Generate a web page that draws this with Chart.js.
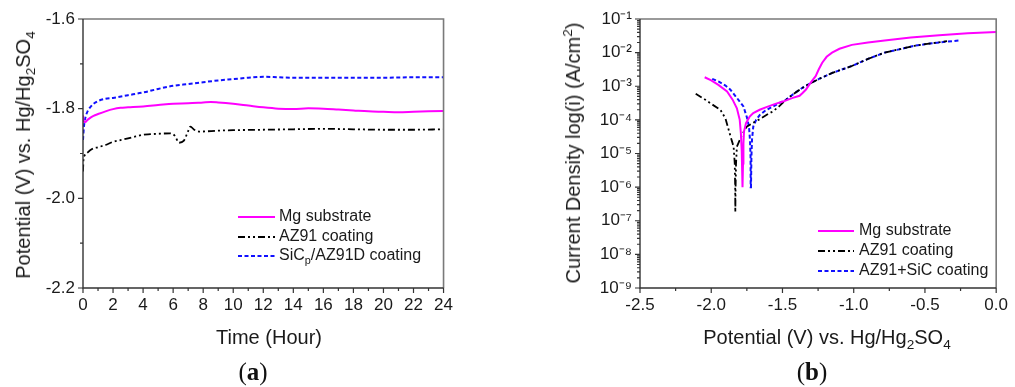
<!DOCTYPE html>
<html>
<head>
<meta charset="utf-8">
<script src="https://cdn.jsdelivr.net/npm/chart.js@4.4.1/dist/chart.umd.min.js"></script>
<style>
  html, body { margin: 0; padding: 0; background: #fff; }
  #wrap { position: relative; width: 1015px; height: 387px; overflow: hidden; font-family: "Liberation Sans", Arial, sans-serif; color: #1a1a1a; }
  canvas { position: absolute; top: 0; }
  .t { position: absolute; white-space: nowrap; font-size: 20px; line-height: 1; }
  .rot { transform: translate(-50%, -50%) rotate(-90deg); }
  .hc { transform: translate(-50%, -50%); }
  sub, sup { font-size: 68%; line-height: 0; }
  .leg { position: absolute; font-size: 16px; line-height: 1; }
  .leg div { position: absolute; left: 0; white-space: nowrap; height: 20px; }
  .leg svg { position: absolute; left: 0; top: 0; }
  .leg span { position: absolute; top: 1px; }
  .pl { position: absolute; font-family: "Liberation Serif", "Times New Roman", serif; font-size: 25px; transform: translate(-50%, -50%); color: #111; }
</style>
</head>
<body>
<div id="wrap">
  <canvas id="ca" width="460" height="387" style="left:0;width:460px;height:387px"></canvas>
  <canvas id="cb" width="495" height="387" style="left:520px;width:495px;height:387px"></canvas>

  <div class="t rot" style="left:23px;top:155px">Potential (V) vs. Hg/Hg<sub>2</sub>SO<sub>4</sub></div>
  <div class="t hc" style="left:269px;top:337px">Time (Hour)</div>
  <div class="t rot" style="left:573px;top:153px">Current Density log(i) (A/cm<sup>2</sup>)</div>
  <div class="t hc" style="left:827px;top:337px">Potential (V) vs. Hg/Hg<sub>2</sub>SO<sub>4</sub></div>

  <div class="leg" style="left:238px;top:207px">
    <div style="top:0"><svg width="40" height="20"><line x1="0" y1="10" x2="37" y2="10" stroke="#ff00ff" stroke-width="2"/></svg><span style="left:41px">Mg substrate</span></div>
    <div style="top:20px"><svg width="40" height="20"><line x1="0" y1="10" x2="37" y2="10" stroke="#000" stroke-width="2" stroke-dasharray="7,3,2,3,2,3"/></svg><span style="left:41px">AZ91 coating</span></div>
    <div style="top:39px"><svg width="40" height="20"><line x1="0" y1="10" x2="37" y2="10" stroke="#1010ff" stroke-width="2" stroke-dasharray="4,2.5"/></svg><span style="left:41px">SiC<sub>p</sub>/AZ91D coating</span></div>
  </div>

  <div class="leg" style="left:818px;top:221px">
    <div style="top:0"><svg width="40" height="20"><line x1="0" y1="10" x2="36" y2="10" stroke="#ff00ff" stroke-width="2"/></svg><span style="left:41px">Mg substrate</span></div>
    <div style="top:20px"><svg width="40" height="20"><line x1="0" y1="10" x2="36" y2="10" stroke="#000" stroke-width="2" stroke-dasharray="7,3,2,3,2,3"/></svg><span style="left:41px">AZ91 coating</span></div>
    <div style="top:40px"><svg width="40" height="20"><line x1="0" y1="10" x2="36" y2="10" stroke="#1010ff" stroke-width="2" stroke-dasharray="4,2.5"/></svg><span style="left:41px">AZ91+SiC coating</span></div>
  </div>

  <div class="pl" style="left:253px;top:372px">(<b>a</b>)</div>
  <div class="pl" style="left:812px;top:372px">(<b>b</b>)</div>
</div>
<script>
// ---------- Panel (a): open circuit potential vs time ----------
const timeMg = [0, 0.05, 0.15, 0.3, 0.5, 0.7, 1, 1.5, 2, 2.5, 3, 4, 5, 6, 7, 8, 8.5, 9, 10, 11, 12, 13, 14, 15, 16, 17, 18, 19, 20, 21, 22, 23, 24];
const potMg  = [-1.815, -1.828, -1.830, -1.825, -1.820, -1.816, -1.812, -1.806, -1.801, -1.798, -1.797, -1.795, -1.792, -1.789, -1.788, -1.786, -1.785, -1.786, -1.789, -1.793, -1.797, -1.800, -1.801, -1.799, -1.800, -1.802, -1.804, -1.806, -1.807, -1.808, -1.807, -1.806, -1.805];

const timeAZ = [0, 0.03, 0.1, 0.3, 0.6, 1, 1.5, 2, 2.5, 3, 3.5, 4, 4.5, 5, 5.8, 6.1, 6.4, 6.7, 7.0, 7.15, 7.4, 7.8, 9, 10, 12, 14, 16, 18, 20, 22, 24];
const potAZ  = [-1.940, -1.915, -1.905, -1.898, -1.890, -1.886, -1.881, -1.874, -1.870, -1.866, -1.862, -1.858, -1.857, -1.856, -1.855, -1.860, -1.876, -1.872, -1.850, -1.840, -1.847, -1.851, -1.849, -1.848, -1.847, -1.846, -1.845, -1.846, -1.847, -1.847, -1.846];

const timeSiC = [0, 0.05, 0.1, 0.2, 0.35, 0.5, 0.75, 1, 1.5, 2, 3, 4, 5, 6, 7, 8, 9, 10, 11, 12, 13, 14, 16, 18, 20, 22, 24];
const potSiC  = [-1.870, -1.845, -1.830, -1.815, -1.803, -1.796, -1.788, -1.783, -1.778, -1.776, -1.770, -1.764, -1.756, -1.749, -1.745, -1.741, -1.737, -1.734, -1.731, -1.729, -1.730, -1.731, -1.731, -1.731, -1.731, -1.730, -1.730];

const timeTicks = [0, 2, 4, 6, 8, 10, 12, 14, 16, 18, 20, 22, 24];
const potTicks = [-2.2, -2.0, -1.8, -1.6];

// ---------- Panel (b): polarization curves ----------
const eMg = [-2.046, -2.0, -1.95, -1.889, -1.85, -1.82, -1.80, -1.792, -1.786, -1.783, -1.782, -1.779, -1.777, -1.774, -1.770, -1.756, -1.73, -1.705, -1.66, -1.613, -1.55, -1.497, -1.428, -1.38, -1.359, -1.335, -1.313, -1.29, -1.267, -1.245, -1.221, -1.19, -1.152, -1.10, -1.013, -0.90, -0.783, -0.60, -0.40, -0.20, 0.0];
const iMg = [1.85e-3, 1.5e-3, 1.1e-3, 7e-4, 4e-4, 2.2e-4, 1e-4, 4e-5, 1.2e-5, 3e-6, 1e-6, 1e-6, 5e-6, 2e-5, 4.5e-5, 8e-5, 1.25e-4, 1.6e-4, 2e-4, 2.4e-4, 3e-4, 3.5e-4, 4.5e-4, 5.2e-4, 6.3e-4, 8e-4, 1.1e-3, 1.5e-3, 2e-3, 3.2e-3, 5e-3, 7.5e-3, 1e-2, 1.3e-2, 1.7e-2, 2e-2, 2.3e-2, 2.8e-2, 3.3e-2, 3.8e-2, 4.1e-2];

const eAZ = [-2.109, -2.05, -2.0, -1.936, -1.90, -1.867, -1.843, -1.835, -1.832, -1.831, -1.829, -1.826, -1.82, -1.80, -1.786, -1.751, -1.70, -1.659, -1.60, -1.566, -1.52, -1.474, -1.42, -1.359, -1.30, -1.244, -1.15, -1.013, -0.90, -0.783, -0.70, -0.575, -0.45, -0.345];
const iAZ = [6e-4, 4.2e-4, 3e-4, 2e-4, 1.1e-4, 3.5e-5, 1.6e-5, 5e-6, 1e-6, 1.8e-7, 1e-6, 5e-6, 1.6e-5, 2.5e-5, 3.5e-5, 6.3e-5, 8.5e-5, 1.05e-4, 1.5e-4, 1.8e-4, 2.6e-4, 4e-4, 6e-4, 9e-4, 1.25e-3, 1.65e-3, 2.5e-3, 4e-3, 6.5e-3, 1e-2, 1.2e-2, 1.6e-2, 1.9e-2, 2.2e-2];

const eSiC = [-1.993, -1.95, -1.90, -1.867, -1.82, -1.774, -1.75, -1.735, -1.728, -1.724, -1.723, -1.721, -1.718, -1.714, -1.705, -1.685, -1.659, -1.62, -1.566, -1.52, -1.474, -1.42, -1.36, -1.30, -1.244, -1.15, -1.013, -0.90, -0.783, -0.70, -0.575, -0.45, -0.264];
const iSiC = [1.65e-3, 1.4e-3, 1.05e-3, 8e-4, 4.5e-4, 2.5e-4, 1.2e-4, 6.3e-5, 2.5e-5, 8e-6, 1e-6, 1e-6, 8e-6, 2.5e-5, 6.3e-5, 1e-4, 1.4e-4, 1.9e-4, 2.5e-4, 3.2e-4, 4e-4, 6e-4, 9e-4, 1.25e-3, 1.65e-3, 2.5e-3, 4e-3, 6.5e-3, 1e-2, 1.2e-2, 1.6e-2, 1.9e-2, 2.3e-2];

const eTicks = [-2.5, -2.0, -1.5, -1.0, -0.5, 0.0];
const logTicks = [1e-9, 1e-8, 1e-7, 1e-6, 1e-5, 1e-4, 1e-3, 1e-2, 1e-1];

// ---------- helpers ----------
const SUP = {'-': '\u207B', '0': '\u2070', '1': '\u00B9', '2': '\u00B2', '3': '\u00B3', '4': '\u2074', '5': '\u2075', '6': '\u2076', '7': '\u2077', '8': '\u2078', '9': '\u2079'};
function pow10Label(v) {
  const e = Math.round(Math.log10(v));
  return '10' + String(e).split('').map(c => SUP[c]).join('');
}
function pts(xs, ys) { return xs.map((x, i) => ({x: x, y: ys[i]})); }

const MAG = '#ff00ff', BLK = '#000000', BLU = '#1010ff';
const tickFont = {family: '"Liberation Sans", Arial, sans-serif', size: 17};

function frameTicks(minorX, minorY) {
  return {
    id: 'frameTicks',
    afterDraw(chart) {
      const {ctx, chartArea: a} = chart;
      const xs = chart.scales.x, ys = chart.scales.y;
      ctx.save();
      ctx.strokeStyle = '#7a7a7a'; ctx.lineWidth = 1.6;
      ctx.beginPath();
      ctx.moveTo(a.left, a.top); ctx.lineTo(a.right, a.top); ctx.lineTo(a.right, a.bottom);
      ctx.stroke();
      ctx.strokeStyle = '#333'; ctx.lineWidth = 1.4;
      ctx.beginPath();
      ctx.moveTo(a.left, a.top); ctx.lineTo(a.left, a.bottom); ctx.lineTo(a.right, a.bottom);
      ctx.stroke();
      ctx.lineWidth = 1.2;
      ctx.beginPath();
      xs.ticks.forEach(t => { const p = xs.getPixelForValue(t.value); ctx.moveTo(p, a.bottom); ctx.lineTo(p, a.bottom + 5); });
      minorX.forEach(v => { const p = xs.getPixelForValue(v); ctx.moveTo(p, a.bottom); ctx.lineTo(p, a.bottom + 3); });
      ys.ticks.forEach(t => { const p = ys.getPixelForValue(t.value); ctx.moveTo(a.left, p); ctx.lineTo(a.left - 5, p); });
      minorY.forEach(v => { const p = ys.getPixelForValue(v); ctx.moveTo(a.left, p); ctx.lineTo(a.left - 3, p); });
      ctx.stroke();
      ctx.restore();
    }
  };
}

// ---------- chart (a) ----------
new Chart(document.getElementById('ca'), {
  type: 'line',
  data: {
    datasets: [
      {label: 'Mg substrate', data: pts(timeMg, potMg), borderColor: MAG, borderWidth: 2, cubicInterpolationMode: 'monotone'},
      {label: 'AZ91 coating', data: pts(timeAZ, potAZ), borderColor: BLK, borderWidth: 1.8, borderDash: [7, 3, 2, 3, 2, 3], cubicInterpolationMode: 'monotone'},
      {label: 'SiCp/AZ91D coating', data: pts(timeSiC, potSiC), borderColor: BLU, borderWidth: 2, borderDash: [4, 2.5], cubicInterpolationMode: 'monotone'}
    ]
  },
  options: {
    responsive: false, animation: false, devicePixelRatio: 1,
    layout: {padding: {left: 0, right: 16, top: 19, bottom: 0}},
    elements: {point: {radius: 0}},
    plugins: {legend: {display: false}, tooltip: {enabled: false}},
    scales: {
      x: {
        type: 'linear', min: 0, max: 24,
        afterBuildTicks: s => { s.ticks = timeTicks.map(v => ({value: v})); },
        ticks: {font: tickFont, color: '#1a1a1a', padding: 7, maxRotation: 0, callback: v => String(v)},
        grid: {display: false, drawTicks: false}, border: {display: false},
        afterFit: s => { s.height = 99; }
      },
      y: {
        type: 'linear', min: -2.2, max: -1.6,
        afterBuildTicks: s => { s.ticks = potTicks.map(v => ({value: v})); },
        ticks: {font: tickFont, color: '#1a1a1a', padding: 8, callback: v => v.toFixed(1)},
        grid: {display: false, drawTicks: false}, border: {display: false},
        afterFit: s => { s.width = 83; }
      }
    }
  },
  plugins: [frameTicks([1, 3, 5, 7, 9, 11, 13, 15, 17, 19, 21, 23], [-2.1, -1.9, -1.7])]
});

// ---------- chart (b) ----------
const minorLog = [];
for (let e = -9; e < -1; e++) for (let m = 2; m <= 9; m++) minorLog.push(m * Math.pow(10, e));

new Chart(document.getElementById('cb'), {
  type: 'line',
  data: {
    datasets: [
      {label: 'Mg substrate', data: pts(eMg, iMg), borderColor: MAG, borderWidth: 2},
      {label: 'AZ91 coating', data: pts(eAZ, iAZ), borderColor: BLK, borderWidth: 1.8, borderDash: [7, 3, 2, 3, 2, 3]},
      {label: 'AZ91+SiC coating', data: pts(eSiC, iSiC), borderColor: BLU, borderWidth: 2, borderDash: [4, 2.5]}
    ]
  },
  options: {
    responsive: false, animation: false, devicePixelRatio: 1,
    layout: {padding: {left: 0, right: 13, top: 19, bottom: 0}},
    elements: {point: {radius: 0}, line: {tension: 0}},
    plugins: {legend: {display: false}, tooltip: {enabled: false}},
    scales: {
      x: {
        type: 'linear', min: -2.5, max: 0,
        afterBuildTicks: s => { s.ticks = eTicks.map(v => ({value: v})); },
        ticks: {font: tickFont, color: '#1a1a1a', padding: 7, maxRotation: 0, callback: v => v.toFixed(1)},
        grid: {display: false, drawTicks: false}, border: {display: false},
        afterFit: s => { s.height = 99; }
      },
      y: {
        type: 'logarithmic', min: 1e-9, max: 1e-1,
        afterBuildTicks: s => { s.ticks = logTicks.map(v => ({value: v})); },
        ticks: {font: tickFont, color: '#1a1a1a', padding: 8, callback: v => pow10Label(v)},
        grid: {display: false, drawTicks: false}, border: {display: false},
        afterFit: s => { s.width = 120; }
      }
    }
  },
  plugins: [frameTicks([-2.25, -1.75, -1.25, -0.75, -0.25], minorLog)]
});
</script>
</body>
</html>
